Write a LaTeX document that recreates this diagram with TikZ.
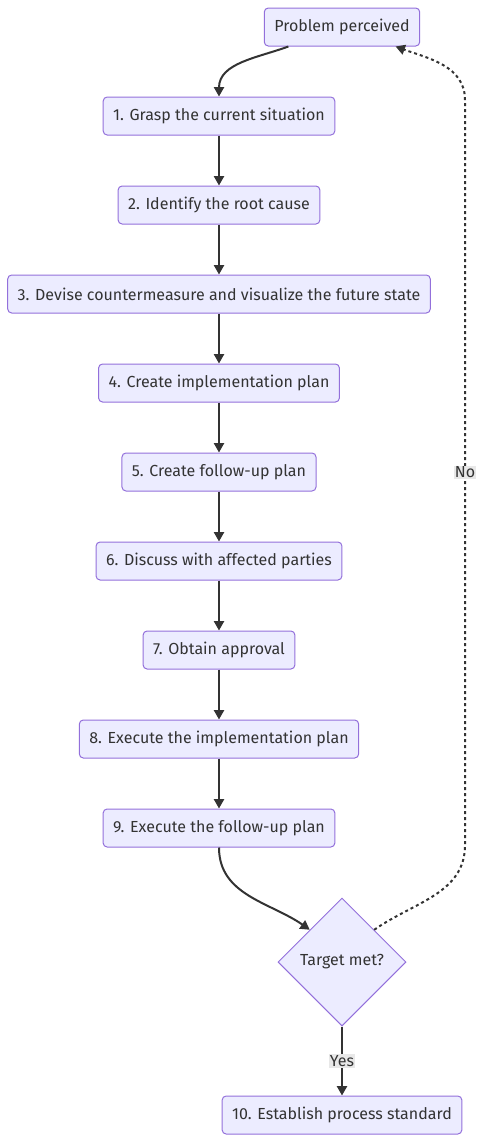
\documentclass[tikz,border=0pt]{standalone}
\usepackage{fontspec}
\setmainfont{Fira Sans}
\usetikzlibrary{arrows.meta,shapes.geometric}
\definecolor{boxfill}{HTML}{ECECFF}
\definecolor{boxline}{HTML}{9370DB}
\definecolor{linec}{HTML}{333333}
\definecolor{lblfill}{HTML}{E8E8E8}
\begin{document}
\begin{tikzpicture}[->,>={Triangle[length=7pt,width=7.5pt]},x=0.75pt,y=-0.75pt,
  line width=1.5pt,draw=linec,
  step node/.style={rectangle,rounded corners=3pt,draw=boxline,fill=boxfill,
    line width=0.75pt,text=linec,font=\fontsize{12}{14}\selectfont,
    minimum height=28.5pt,inner xsep=7.5pt},
  check node/.style={diamond,aspect=1,draw=boxline,fill=boxfill,line width=0.75pt,
    text=linec,font=\fontsize{12}{14}\selectfont,minimum width=96pt,
    minimum height=96pt,inner sep=0pt},
  edge label/.style={fill=lblfill,text=linec,inner sep=1pt,
    font=\fontsize{12}{14}\selectfont}]
\useasboundingbox (0,0) rectangle (483,1143);

% start and the chain of steps
  \node[step node] (perc) at (342,27) {Problem perceived};
  \node[step node] (grasp) at (219,116) {1. Grasp the current situation};
  \node[step node] (root) at (219,205) {2. Identify the root cause};
  \node[step node] (devise) at (219,294) {3. Devise countermeasure and visualize the future state};
  \node[step node] (implplan) at (219,383) {4. Create implementation plan};
  \node[step node] (fuplan) at (219,472) {5. Create follow-up plan};
  \node[step node] (discuss) at (219,561) {6. Discuss with affected parties};
  \node[step node] (approve) at (219,650) {7. Obtain approval};
  \node[step node] (execimpl) at (219,739) {8. Execute the implementation plan};
  \node[step node] (execfu) at (219,828) {9. Execute the follow-up plan};

% decision and end
  \node[check node] (target) at (342,962) {Target met?};
  \node[step node] (standard) at (342,1115) {10. Establish process standard};

  \path
    (perc.-160) edge [out=200,in=90] (grasp.north)
    (grasp) edge (root)
    (root) edge (devise)
    (devise) edge (implplan)
    (implplan) edge (fuplan)
    (fuplan) edge (discuss)
    (discuss) edge (approve)
    (approve) edge (execimpl)
    (execimpl) edge (execfu)
    (execfu.south) edge [out=-90,in=145] (target.135)
    (target) edge node [edge label] {Yes} (standard);

% back loop
  \coordinate (loopA) at (465,845);
  \coordinate (loopB) at (465,100);
  \draw[dash pattern=on 2.25pt off 2.25pt]
    (target.45) to[out=35,in=-90] (loopA) -- node [edge label] {No} (loopB)
    to[out=90,in=-20] (perc.-20);

\end{tikzpicture}
\end{document}
